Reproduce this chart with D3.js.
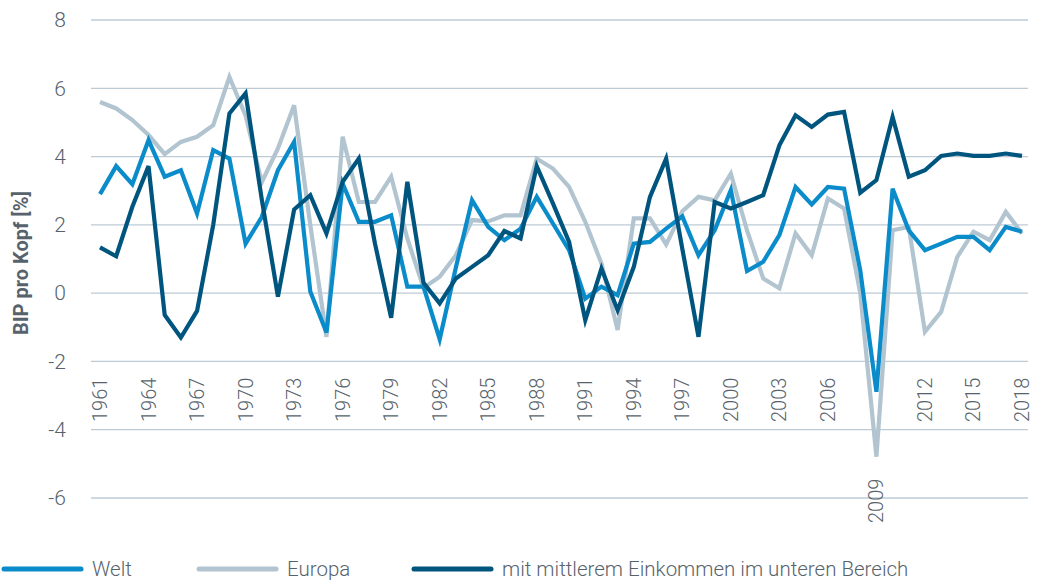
<!DOCTYPE html>
<html>
<head>
<meta charset="utf-8">
<script src="https://cdn.jsdelivr.net/npm/d3@7"></script>
<style>
  body { margin: 0; background: #fff; }
  svg { display: block; font-family: Roboto, "Noto Sans", sans-serif; }
</style>
</head>
<body>
<svg id="chart"></svg>
<script>
const years = d3.range(1961, 2019);

const welt = [2.9, 3.72, 3.19, 4.48, 3.41, 3.6, 2.33, 4.19, 3.94, 1.45,
  2.23, 3.6, 4.43, 0.05, -1.15, 3.21, 2.09, 2.09, 2.28, 0.19,
  0.19, -1.35, 0.75, 2.72, 1.94, 1.55, 1.89, 2.82, 2.04, 1.26,
  -0.16, 0.19, -0.06, 1.45, 1.5, 1.89, 2.25, 1.11, 1.84, 3.02,
  0.65, 0.92, 1.7, 3.11, 2.6, 3.11, 3.06, 0.67, -2.89, 3.06,
  1.84, 1.26, 1.45, 1.65, 1.65, 1.26, 1.94, 1.8];

const europa = [5.6, 5.41, 5.07, 4.63, 4.07, 4.43, 4.58, 4.92, 6.33, 5.2,
  3.25, 4.24, 5.5, 2.0, -1.28, 4.58, 2.67, 2.67, 3.41, 1.6,
  0.15, 0.48, 1.11, 2.14, 2.1, 2.28, 2.28, 3.94, 3.65, 3.11,
  2.09, 0.87, -1.08, 2.19, 2.19, 1.43, 2.4, 2.82, 2.72, 3.5,
  1.84, 0.43, 0.14, 1.75, 1.11, 2.77, 2.48, 0.0, -4.79, 1.84,
  1.94, -1.13, -0.55, 1.06, 1.8, 1.55, 2.38, 1.75];

const unteresMittel = [1.34, 1.08, 2.53, 3.72, -0.64, -1.3, -0.52, 2.0, 5.26, 5.85,
  2.75, -0.1, 2.45, 2.87, 1.75, 3.26, 3.94, 1.45, -0.72, 3.26,
  0.3, -0.3, 0.43, 0.77, 1.11, 1.82, 1.6, 3.72, 2.63, 1.5,
  -0.79, 0.72, -0.5, 0.77, 2.82, 3.94, 1.3, -1.28, 2.67, 2.48,
  2.67, 2.87, 4.33, 5.21, 4.87, 5.23, 5.31, 2.94, 3.31, 5.16,
  3.41, 3.6, 4.02, 4.09, 4.02, 4.02, 4.09, 4.02];

const yTicks = [-6, -4, -2, 0, 2, 4, 6, 8];
const xTicks = d3.range(1961, 2019, 3);

const series = [
  { name: "Europa", values: europa, color: "#b1c4cf" },
  { name: "Welt", values: welt, color: "#0a8bca" },
  { name: "mit mittlerem Einkommen im unteren Bereich", values: unteresMittel, color: "#00557f" }
];
const legendOrder = ["Welt", "Europa", "mit mittlerem Einkommen im unteren Bereich"];

const width = 1040;
const height = 582;
const textColor = "#57636c";

const svg = d3.select("#chart")
  .attr("width", width)
  .attr("height", height);

const x = d3.scaleLinear().domain([1961, 2018]).range([100, 1022]);
const y = d3.scaleLinear().domain([-6, 8]).range([498, 20]);

// gridlines
svg.append("g")
  .selectAll("line")
  .data(yTicks)
  .join("line")
  .attr("x1", 91)
  .attr("x2", 1028)
  .attr("y1", d => y(d))
  .attr("y2", d => y(d))
  .attr("stroke", "#bccbd6")
  .attr("stroke-width", 1.3);

// y tick labels
svg.append("g")
  .selectAll("text")
  .data(yTicks)
  .join("text")
  .attr("x", 66)
  .attr("y", d => y(d))
  .attr("dy", "0.35em")
  .attr("text-anchor", "end")
  .attr("font-size", 21)
  .attr("font-weight", 300)
  .attr("fill", textColor)
  .text(d => d);

// y axis title
svg.append("text")
  .attr("transform", "translate(28,263) rotate(-90)")
  .attr("text-anchor", "middle")
  .attr("font-size", 20)
  .attr("font-weight", 700)
  .attr("fill", textColor)
  .text("BIP pro Kopf [%]");

// x tick labels (2009 pushed below the dip)
svg.append("g")
  .selectAll("text")
  .data(xTicks)
  .join("text")
  .attr("transform", d => `translate(${x(d)},${d === 2009 ? 523 : 422}) rotate(-90)`)
  .attr("dy", "0.35em")
  .attr("text-anchor", "start")
  .attr("font-size", 20)
  .attr("font-weight", 300)
  .attr("fill", textColor)
  .text(d => d);

// lines
const line = d3.line()
  .x((d, i) => x(years[i]))
  .y(d => y(d));

svg.append("g")
  .selectAll("path")
  .data(series)
  .join("path")
  .attr("d", d => line(d.values))
  .attr("fill", "none")
  .attr("stroke", d => d.color)
  .attr("stroke-width", 4.2);

// legend
const legendX = [4, 199, 414];
const legend = svg.append("g")
  .selectAll("g")
  .data(legendOrder.map(n => series.find(s => s.name === n)))
  .join("g")
  .attr("transform", (d, i) => `translate(${legendX[i]},569)`);

legend.append("line")
  .attr("x1", 0)
  .attr("x2", 77)
  .attr("stroke", d => d.color)
  .attr("stroke-width", 5)
  .attr("stroke-linecap", "round");

legend.append("text")
  .attr("x", 88)
  .attr("dy", "0.35em")
  .attr("font-size", 20.5)
  .attr("font-weight", 300)
  .attr("fill", textColor)
  .text(d => d.name);
</script>
</body>
</html>
